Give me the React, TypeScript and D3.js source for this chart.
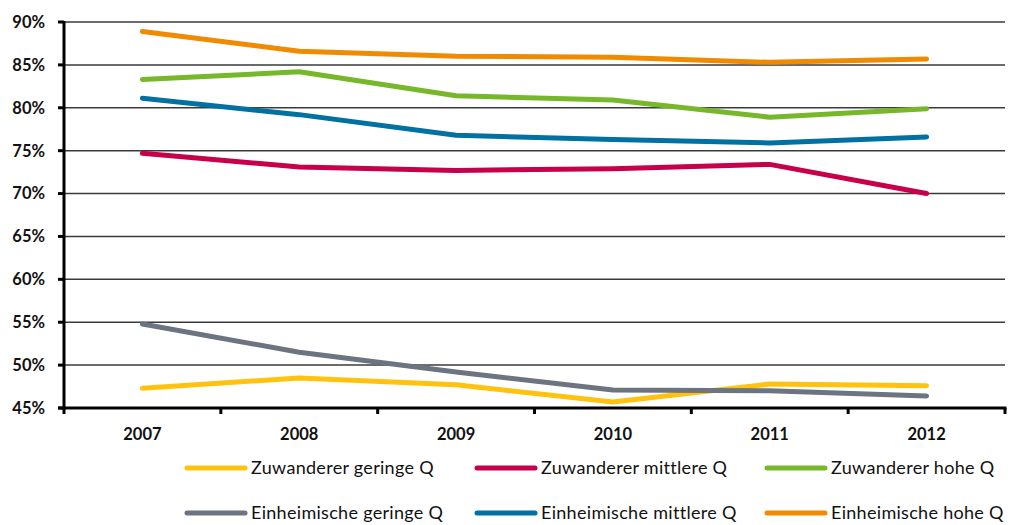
import React from 'react';
import * as d3 from 'd3';

const years = ['2007', '2008', '2009', '2010', '2011', '2012'];
const yTicks = [45, 50, 55, 60, 65, 70, 75, 80, 85, 90];

const zuwandererGering = [47.3, 48.5, 47.7, 45.7, 47.8, 47.6];
const zuwandererMittel = [74.7, 73.1, 72.7, 72.9, 73.4, 70.0];
const zuwandererHoch = [83.3, 84.2, 81.4, 80.9, 78.9, 79.9];
const einheimischeGering = [54.8, 51.5, 49.2, 47.1, 47.0, 46.4];
const einheimischeMittel = [81.1, 79.2, 76.8, 76.3, 75.9, 76.6];
const einheimischeHoch = [88.9, 86.6, 86.0, 85.9, 85.3, 85.7];

const series = [
  { name: 'Zuwanderer geringe Q', values: zuwandererGering, color: '#ffc20e' },
  { name: 'Zuwanderer mittlere Q', values: zuwandererMittel, color: '#c8004b' },
  { name: 'Zuwanderer hohe Q', values: zuwandererHoch, color: '#76b82a' },
  { name: 'Einheimische geringe Q', values: einheimischeGering, color: '#6b7480' },
  { name: 'Einheimische mittlere Q', values: einheimischeMittel, color: '#0071a1' },
  { name: 'Einheimische hohe Q', values: einheimischeHoch, color: '#f08a00' },
];

const W = 1011;
const H = 525;
const margin = { left: 64, right: 6, top: 22, bottom: 117 };
const font = 'Lato, "Open Sans", sans-serif';

export default function App() {
  const x = d3.scaleBand<string>().domain(years).range([margin.left, W - margin.right]);
  const y = d3.scaleLinear().domain([45, 90]).range([H - margin.bottom, margin.top]);
  const line = d3.line<number>()
    .x((_, i) => (x(years[i]) as number) + x.bandwidth() / 2)
    .y(d => y(d));

  const legendCols = [187, 477, 767];
  const legendRows = [468, 513];

  return (
    <svg width={W} height={H} style={{ position: 'absolute', left: 0, top: 0, background: '#fff' }}>
      {/* gridlines */}
      {yTicks.filter(t => t > 45).map(t => (
        <line key={t} x1={margin.left} x2={W - margin.right} y1={y(t)} y2={y(t)} stroke="#3a3a3a" strokeWidth={1.5} />
      ))}
      {/* y ticks + labels */}
      {yTicks.map(t => (
        <g key={'t' + t}>
          <line x1={margin.left - 6} x2={margin.left} y1={y(t)} y2={y(t)} stroke="#000" strokeWidth={3} />
          <text x={45} y={y(t)} dy="0.36em" textAnchor="end" fontFamily={font} fontWeight="bold" fontSize={16.5} fill="#111">
            {t}%
          </text>
        </g>
      ))}
      {/* x ticks at band edges */}
      {years.map(yr => (
        <line key={'x' + yr} x1={x(yr) as number} x2={x(yr) as number} y1={y(45)} y2={y(45) + 6} stroke="#000" strokeWidth={3} />
      ))}
      <line x1={W - margin.right} x2={W - margin.right} y1={y(45)} y2={y(45) + 6} stroke="#000" strokeWidth={3} />
      {/* axes */}
      <line x1={margin.left} x2={margin.left} y1={y(90) - 1} y2={y(45) + 1.5} stroke="#000" strokeWidth={3} />
      <line x1={margin.left - 6} x2={W - margin.right + 1.5} y1={y(45)} y2={y(45)} stroke="#000" strokeWidth={3} />
      {years.map(yr => (
        <text key={'l' + yr} x={(x(yr) as number) + x.bandwidth() / 2} y={440} textAnchor="middle" fontFamily={font} fontWeight="bold" fontSize={16.5} fill="#111">
          {yr}
        </text>
      ))}
      {/* lines */}
      {series.map(s => (
        <path key={s.name} d={line(s.values) || ''} fill="none" stroke={s.color} strokeWidth={5} strokeLinecap="round" strokeLinejoin="round" />
      ))}
      {/* legend */}
      {series.map((s, i) => {
        const lx = legendCols[i % 3];
        const ly = legendRows[Math.floor(i / 3)];
        return (
          <g key={'lg' + s.name}>
            <line x1={lx} x2={lx + 58} y1={ly} y2={ly} stroke={s.color} strokeWidth={5} strokeLinecap="round" />
            <text x={lx + 64} y={ly} dy="0.35em" fontFamily={font} fontSize={18} letterSpacing={0.3} fill="#111">{s.name}</text>
          </g>
        );
      })}
    </svg>
  );
}
